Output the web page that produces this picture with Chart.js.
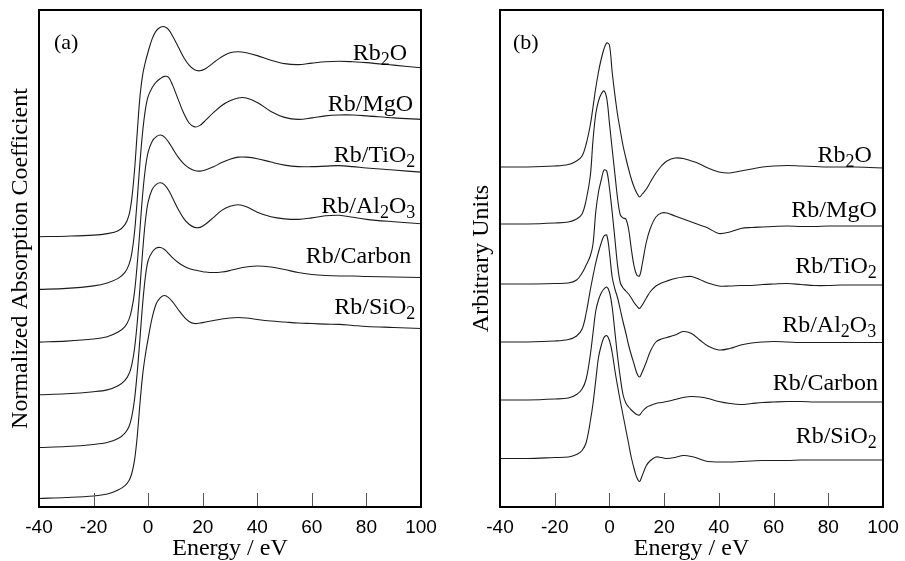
<!DOCTYPE html>
<html>
<head>
<meta charset="utf-8">
<script src="https://cdn.jsdelivr.net/npm/chart.js@4.4.0/dist/chart.umd.min.js"></script>
<style>
  html, body { margin: 0; padding: 0; background: #fff; }
  #wrap { position: relative; width: 905px; height: 561px; }
  #panelA { position: absolute; left: 0; top: 0; }
  #panelB { position: absolute; left: 450px; top: 0; }
</style>
</head>
<body>
<div id="wrap">
  <canvas id="panelA" width="450" height="561"></canvas>
  <canvas id="panelB" width="455" height="561"></canvas>
</div>
<script>
// -- THE DATA --

// (a) normalized absorption, edge jump = 1
const energyA = [-40,-30,-20,-15,-11,-8.5,-7,-6,-5,-4,-3,-2,-1,0,1.5,3,4.5,6,7.5,9,
  11,13,15,17,19,21,24,27,30,33,36,40,45,50,55,60,65,70,75,80,90,100];

const absRb2O = [0,0.003,0.009,0.018,0.035,0.071,0.129,0.224,0.388,0.612,0.824,0.953,1.029,1.088,1.165,1.212,1.232,1.235,1.218,1.179,
  1.118,1.056,1.009,0.982,0.976,0.988,1.024,1.059,1.082,1.088,1.082,1.065,1.038,1.018,1.012,1.021,1.029,1.032,1.029,1.024,1.009,0.994];
const absMgO = [0,0.006,0.021,0.038,0.065,0.100,0.147,0.212,0.335,0.529,0.747,0.929,1.059,1.135,1.188,1.221,1.241,1.253,1.247,1.200,
  1.118,1.038,0.979,0.956,0.965,0.994,1.041,1.082,1.109,1.126,1.126,1.100,1.047,1.012,1.000,1.009,1.021,1.026,1.026,1.021,1.009,1.000];
const absTiO2 = [0,0.006,0.018,0.032,0.059,0.091,0.135,0.194,0.294,0.459,0.665,0.871,1.024,1.118,1.182,1.209,1.218,1.206,1.176,1.138,
  1.088,1.050,1.024,1.009,1.006,1.012,1.032,1.056,1.076,1.088,1.088,1.079,1.059,1.041,1.032,1.032,1.035,1.038,1.032,1.024,1.012,1.000];
const absAl2O3 = [0,0.006,0.018,0.029,0.053,0.085,0.124,0.176,0.271,0.424,0.629,0.847,1.024,1.135,1.209,1.238,1.247,1.235,1.203,1.156,
  1.091,1.038,1.003,0.985,0.985,1.003,1.044,1.085,1.109,1.118,1.106,1.074,1.047,1.035,1.032,1.041,1.053,1.056,1.044,1.032,1.018,1.006];
const absCarbon = [0,0.006,0.018,0.029,0.053,0.085,0.124,0.182,0.282,0.441,0.641,0.847,1.006,1.100,1.150,1.174,1.176,1.165,1.141,1.115,
  1.088,1.068,1.053,1.044,1.038,1.032,1.029,1.032,1.041,1.053,1.062,1.068,1.062,1.047,1.029,1.018,1.012,1.009,1.009,1.006,1.003,1.000];
const absSiO2 = [0,0.006,0.015,0.026,0.050,0.076,0.106,0.147,0.224,0.365,0.559,0.729,0.847,0.941,1.065,1.147,1.182,1.194,1.182,1.156,
  1.112,1.071,1.041,1.029,1.032,1.038,1.047,1.056,1.062,1.065,1.062,1.053,1.044,1.038,1.032,1.029,1.026,1.024,1.018,1.012,1.006,1.000];

const offsetsA = [1.59, 1.28, 0.97, 0.66, 0.35, 0.05];

// (b) first derivative, arbitrary units
const energyB = [-40,-30,-20,-15,-12,-10,-8.5,-7,-6,-5,-4,-3,-2,-1,0,1,2,3,4,5,
  6,7,8,9,10,11,12,13.5,15,17,19,21,24,27,30,33,36,40,44,48,
  52,56,60,65,70,75,80,85,90,95,100];

const derRb2O = [0,0,0.01,0.025,0.06,0.11,0.23,0.42,0.60,0.79,0.95,1.08,1.18,1.24,1.22,0.95,0.72,0.52,0.36,0.21,
  0.09,-0.02,-0.12,-0.20,-0.26,-0.30,-0.27,-0.22,-0.15,-0.06,0.01,0.06,0.09,0.085,0.06,0.03,-0.01,-0.05,-0.06,-0.04,
  -0.02,0,0.01,0.015,0.01,0.005,0,0,0,-0.005,-0.01];
const derMgO = [0,0,0.01,0.02,0.05,0.10,0.24,0.48,0.84,1.10,1.23,1.30,1.33,1.26,1.01,0.75,0.50,0.25,0.09,0.06,
  0.05,-0.05,-0.25,-0.42,-0.51,-0.52,-0.40,-0.18,-0.04,0.07,0.11,0.11,0.08,0.05,0.02,-0.01,-0.04,-0.095,-0.08,-0.045,
  -0.035,-0.03,-0.025,-0.02,-0.025,-0.025,-0.02,-0.02,-0.02,-0.02,-0.02];
const derTiO2 = [0,0,0.005,0.01,0.04,0.11,0.19,0.28,0.40,0.72,0.92,1.04,1.14,1.13,0.96,0.72,0.45,0.18,0.01,-0.04,
  -0.07,-0.10,-0.14,-0.185,-0.22,-0.245,-0.21,-0.14,-0.075,-0.02,0.01,0.03,0.055,0.07,0.075,0.045,0.01,-0.02,-0.02,-0.015,
  -0.015,-0.005,0,0.005,-0.005,-0.015,-0.015,-0.01,-0.01,-0.01,-0.01];
const derAl2O3 = [0,0,0.01,0.025,0.06,0.13,0.29,0.52,0.66,0.79,0.90,0.99,1.06,1.07,0.90,0.65,0.53,0.44,0.32,0.20,
  0.09,-0.03,-0.13,-0.22,-0.31,-0.35,-0.30,-0.20,-0.09,0,0.03,0.045,0.07,0.105,0.085,0.02,-0.04,-0.08,-0.065,-0.03,
  -0.01,0,0.005,0,-0.005,-0.005,-0.005,-0.005,-0.005,-0.005,-0.005];
const derCarbon = [0,0,0.01,0.02,0.055,0.11,0.21,0.45,0.67,0.89,1.00,1.07,1.11,1.13,1.08,0.93,0.68,0.43,0.22,0.05,
  -0.03,-0.07,-0.10,-0.125,-0.145,-0.15,-0.115,-0.075,-0.055,-0.035,-0.025,-0.015,0.005,0.025,0.035,0.03,0.015,-0.015,-0.035,-0.045,
  -0.035,-0.025,-0.02,-0.015,-0.015,-0.02,-0.02,-0.02,-0.02,-0.02,-0.02];
const derSiO2 = [0,0,0.01,0.015,0.04,0.08,0.16,0.37,0.55,0.78,1.01,1.13,1.21,1.23,1.18,1.06,0.88,0.72,0.57,0.43,
  0.29,0.15,0.01,-0.10,-0.19,-0.23,-0.17,-0.07,-0.02,0.015,0.01,0,0.01,0.03,0.02,-0.005,-0.03,-0.035,-0.035,-0.03,
  -0.025,-0.02,-0.02,-0.02,-0.015,-0.015,-0.015,-0.015,-0.015,-0.015,-0.015];

const offsetsB = [3.40, 2.83, 2.23, 1.65, 1.07, 0.485];

const sampleNames = ["Rb_2O", "Rb/MgO", "Rb/TiO_2", "Rb/Al_2O_3", "Rb/Carbon", "Rb/SiO_2"];
const tickValues = [-20, 0, 20, 40, 60, 80];

// -- HELPERS --

const SERIF = '"Liberation Serif", "Times New Roman", serif';
const SANS = '"Liberation Sans", Arial, sans-serif';

function makeDatasets(energy, seriesList, offsets) {
  return seriesList.map((vals, i) => ({
    data: energy.map((e, j) => ({ x: e, y: vals[j] + offsets[i] })),
    borderColor: '#1c1c1c',
    borderWidth: 1.1,
    pointRadius: 0,
    fill: false,
    tension: 0.35
  }));
}

function drawRich(ctx, text, xRight, yBase) {
  const parts = text.split(/(_\d)/).filter(Boolean).map(p =>
    p[0] === '_' ? { t: p.slice(1), sub: true } : { t: p, sub: false });
  let w = 0;
  parts.forEach(p => {
    ctx.font = p.sub ? '18px ' + SERIF : '24px ' + SERIF;
    p.w = ctx.measureText(p.t).width;
    w += p.w;
  });
  let x = xRight - w;
  parts.forEach(p => {
    ctx.font = p.sub ? '18px ' + SERIF : '24px ' + SERIF;
    ctx.fillText(p.t, x, p.sub ? yBase + 5 : yBase);
    x += p.w;
  });
}

// frame, inner ticks, curve labels and panel tag
const framePlugin = {
  id: 'frame',
  afterDraw(chart, args, opts) {
    const { ctx, chartArea: a, scales } = chart;
    ctx.save();
    ctx.strokeStyle = '#555';
    ctx.lineWidth = 1;
    tickValues.forEach(v => {
      const x = Math.round(scales.x.getPixelForValue(v)) + 0.5;
      ctx.beginPath();
      ctx.moveTo(x, a.bottom);
      ctx.lineTo(x, a.bottom - 14);
      ctx.stroke();
    });
    ctx.strokeStyle = '#000';
    ctx.lineWidth = 2;
    ctx.strokeRect(a.left, a.top, a.right - a.left, a.bottom - a.top);

    ctx.fillStyle = '#000';
    ctx.textAlign = 'left';
    ctx.textBaseline = 'alphabetic';
    sampleNames.forEach((name, i) => {
      const x = scales.x.getPixelForValue(opts.labelRight[i]);
      const y = scales.y.getPixelForValue(opts.labelBase[i]);
      drawRich(ctx, name, x, y);
    });
    ctx.font = '22px ' + SERIF;
    ctx.fillText(opts.tag, a.left + opts.tagDx, a.top + 39);
    ctx.restore();
  }
};

function makeChart(id, energy, series, offsets, yMax, yTitle, layout) {
  return new Chart(id, {
    type: 'line',
    data: { datasets: makeDatasets(energy, series, offsets) },
    options: {
      responsive: false,
      animation: false,
      layout: { padding: { top: 10, right: layout.padRight, bottom: 0, left: 0 } },
      plugins: {
        legend: { display: false },
        tooltip: { enabled: false },
        frame: layout.frame
      },
      scales: {
        x: {
          type: 'linear',
          min: -40, max: 100,
          grid: { display: false },
          border: { display: false },
          ticks: {
            stepSize: 20, autoSkip: false, maxRotation: 0,
            color: '#000', padding: 1,
            font: { family: SANS, size: 19 }
          },
          title: {
            display: true, text: 'Energy / eV', color: '#000',
            font: { family: SERIF, size: 24, lineHeight: 1 },
            padding: { top: 0, bottom: 0 }
          },
          afterFit(axis) { axis.height = 54; axis.paddingLeft = 0; axis.paddingRight = 0; }
        },
        y: {
          min: 0, max: yMax,
          grid: { display: false },
          border: { display: false },
          ticks: { display: false },
          title: {
            display: true, text: yTitle, color: '#000',
            font: { family: SERIF, size: 24, lineHeight: 1.2 },
            padding: { top: layout.titlePad, bottom: 0 }
          },
          afterFit(axis) { axis.width = layout.axisWidth; }
        }
      }
    },
    plugins: [framePlugin]
  });
}

// -- THE CHARTS --

makeChart('panelA', energyA,
  [absRb2O, absMgO, absTiO2, absAl2O3, absCarbon, absSiO2], offsetsA,
  497 / 170, 'Normalized Absorption Coefficient',
  {
    padRight: 29, axisWidth: 39, titlePad: 6,
    frame: {
      tag: '(a)', tagDx: 15,
      labelRight: [94.9, 97.1, 97.9, 97.9, 96.4, 97.9],
      labelBase: [2.63, 2.33, 2.03, 1.73, 1.435, 1.135]
    }
  });

makeChart('panelB', energyB,
  [derRb2O, derMgO, derTiO2, derAl2O3, derCarbon, derSiO2], offsetsB,
  4.97, 'Arbitrary Units',
  {
    padRight: 22, axisWidth: 50, titlePad: 17.5,
    frame: {
      tag: '(b)', tagDx: 13,
      labelRight: [95.9, 97.7, 97.7, 97.5, 98.2, 97.7],
      labelBase: [3.45, 2.90, 2.34, 1.75, 1.17, 0.64]
    }
  });
</script>
</body>
</html>
